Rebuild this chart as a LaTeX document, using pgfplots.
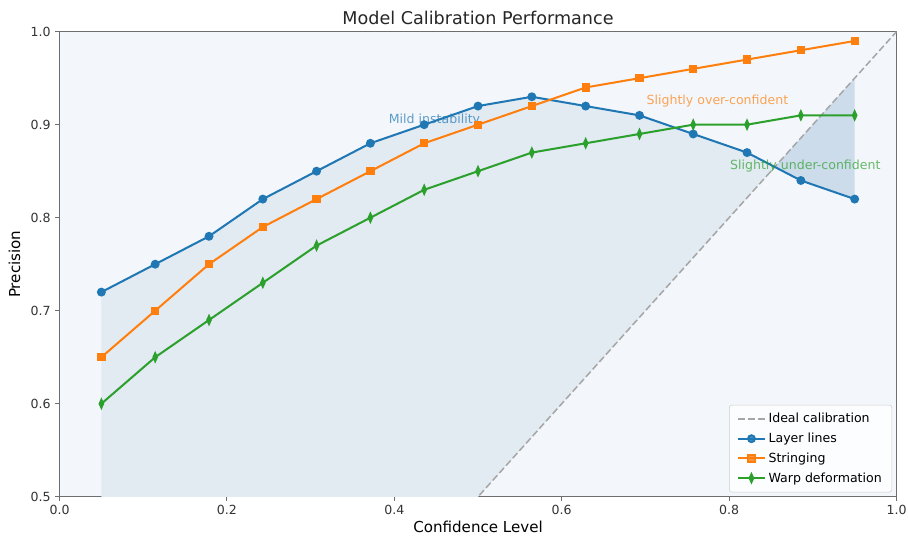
\documentclass[border=0pt]{standalone}
\usepackage{fontspec}
\setmainfont{DejaVu Sans}
\usepackage{pgfplots}
\pgfplotsset{compat=1.18}
\usepgfplotslibrary{fillbetween}
\definecolor{tabblue}{HTML}{1F77B4}
\definecolor{taborange}{HTML}{FF7F0E}
\definecolor{tabgreen}{HTML}{2CA02C}
\definecolor{bgc}{HTML}{F3F7FB}
\definecolor{fillA}{HTML}{E2EAF2}
\definecolor{fillB}{HTML}{CDDCEB}
\definecolor{spine}{HTML}{6E6E6E}
\begin{document}
\begin{tikzpicture}
\begin{axis}[
  scale only axis,
  width=663.7bp, height=368.8bp,
  xmin=0, xmax=1, ymin=0.5, ymax=1,
  xtick={0,0.2,0.4,0.6,0.8,1.0},
  ytick={0.5,0.6,0.7,0.8,0.9,1.0},
  tick pos=left, tick align=outside,
  major tick length=3.5bp,
  every tick/.style={spine, line width=0.8bp},
  axis line style={spine, line width=1bp},
  axis background/.style={fill=bgc},
  /pgf/number format/assume math mode=true,
  /pgf/number format/.cd, fixed, fixed zerofill, precision=1, /pgfplots/.cd,
  tick label style={font=\fontsize{10}{12}\selectfont, text=black!80},
  xlabel={Confidence Level},
  xlabel style={font=\fontsize{12}{14}\selectfont, at={(0.5,0)}, anchor=base, yshift=-28.5bp},
  ylabel={Precision},
  ylabel style={font=\fontsize{12}{14}\selectfont, at={(axis description cs:-0.047,0.5)}, anchor=base, rotate=0},
  legend style={at={(1,0)}, anchor=south east, xshift=-3.5bp, yshift=3.5bp,
    font=\fontsize{10}{12}\selectfont, draw=black!20, rounded corners=2bp,
    fill=white, fill opacity=0.8, text opacity=1, row sep=2.6bp,
    inner xsep=6bp, inner ysep=4.5bp},
  legend cell align=left,
  legend image code/.code={\draw[mark repeat=2,mark phase=2] plot coordinates {(0cm,0cm)(0.38cm,0cm)(0.76cm,0cm)};},
]
\addplot[draw=none, name path=diag, forget plot] coordinates {(0.05,0.05) (0.95,0.95)};
\addplot[draw=none, name path=layer, forget plot] coordinates {
(0.05,0.72)(0.1143,0.75)(0.1786,0.78)(0.2429,0.82)(0.3071,0.85)(0.3714,0.88)(0.4357,0.90)(0.5,0.92)
(0.5643,0.93)(0.6286,0.92)(0.6929,0.91)(0.7571,0.89)(0.8214,0.87)(0.8857,0.84)(0.95,0.82)};
\addplot[forget plot] fill between[of=layer and diag, split,
  every segment no 0/.style={fill=fillA, draw=none},
  every segment no 1/.style={fill=fillB, draw=none}];

\addplot[gray!70, dashed, dash pattern=on 5.5bp off 2.4bp, line width=1.2bp] coordinates {(0,0) (1,1)};
\addlegendentry{Ideal calibration}

\addplot[tabblue, line width=1.6bp, mark=*, mark size=2.7bp, mark options={solid}] coordinates {
(0.05,0.72)(0.1143,0.75)(0.1786,0.78)(0.2429,0.82)(0.3071,0.85)(0.3714,0.88)(0.4357,0.90)(0.5,0.92)
(0.5643,0.93)(0.6286,0.92)(0.6929,0.91)(0.7571,0.89)(0.8214,0.87)(0.8857,0.84)(0.95,0.82)};
\addlegendentry{Layer lines}

\addplot[taborange, line width=1.6bp, mark=square*, mark size=2.5bp, mark options={solid}] coordinates {
(0.05,0.65)(0.1143,0.70)(0.1786,0.75)(0.2429,0.79)(0.3071,0.82)(0.3714,0.85)(0.4357,0.88)(0.5,0.90)
(0.5643,0.92)(0.6286,0.94)(0.6929,0.95)(0.7571,0.96)(0.8214,0.97)(0.8857,0.98)(0.95,0.99)};
\addlegendentry{Stringing}

\addplot[tabgreen, line width=1.6bp, mark=diamond*, mark size=3.1bp, mark options={solid, xscale=0.6}] coordinates {
(0.05,0.60)(0.1143,0.65)(0.1786,0.69)(0.2429,0.73)(0.3071,0.77)(0.3714,0.80)(0.4357,0.83)(0.5,0.85)
(0.5643,0.87)(0.6286,0.88)(0.6929,0.89)(0.7571,0.90)(0.8214,0.90)(0.8857,0.91)(0.95,0.91)};
\addlegendentry{Warp deformation}

\node[text=tabblue, text opacity=0.7, font=\fontsize{10}{12}\selectfont] at (axis cs:0.448,0.905) {Mild instability};
\node[text=taborange, text opacity=0.7, font=\fontsize{10}{12}\selectfont] at (axis cs:0.786,0.925) {Slightly over-confident};
\node[text=tabgreen, text opacity=0.7, font=\fontsize{10}{12}\selectfont] at (axis cs:0.891,0.855) {Slightly under-confident};
\end{axis}
\node[anchor=base, text=black!85, font=\fontsize{14}{16}\selectfont] at ([yshift=5.5bp]current axis.north) {Model Calibration Performance};
\pgfresetboundingbox
\path ([shift={(-47.2bp,-36.1bp)}]current axis.south west) rectangle ([shift={(9.1bp,25.1bp)}]current axis.north east);
\end{tikzpicture}
\end{document}
